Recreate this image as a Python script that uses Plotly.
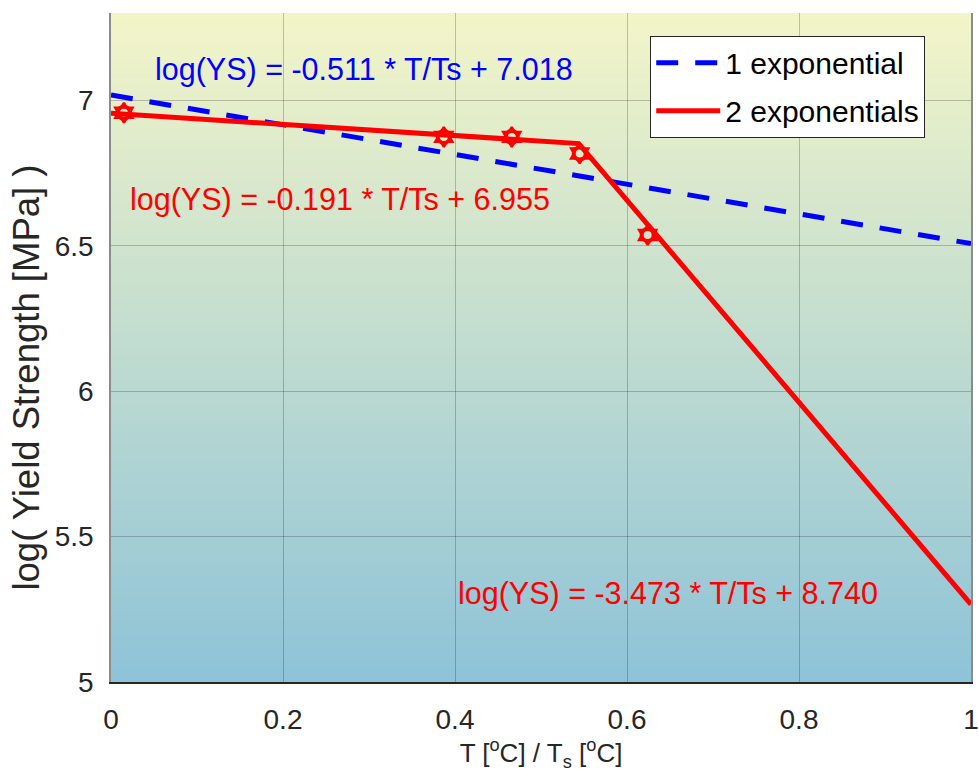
import base64
import struct
import zlib

import plotly.graph_objects as go

# Measured yield strength, normalised temperature vs log(YS)
t_ratio = [0.015, 0.387, 0.466, 0.545, 0.624]
log_ys = [6.957, 6.874, 6.874, 6.817, 6.537]

# Fitted models: log(YS) = slope * T/Ts + intercept
fit1 = {"slope": -0.511, "intercept": 7.018}          # single exponential
fit2_low = {"slope": -0.191, "intercept": 6.955}      # two exponentials, low T
fit2_high = {"slope": -3.473, "intercept": 8.740}     # two exponentials, high T

x_ticks = [0, 0.2, 0.4, 0.6, 0.8, 1]
x_tick_text = ["0", "0.2", "0.4", "0.6", "0.8", "1"]
y_ticks = [5, 5.5, 6, 6.5, 7]
y_tick_text = ["5", "5.5", "6", "6.5", "7"]

x_span = [0.0, 1.0]


def line(fit, xs):
    return [fit["slope"] * x + fit["intercept"] for x in xs]


def fmt(fit):
    return "log(YS) = %.3f * T/Ts + %.3f" % (fit["slope"], fit["intercept"])


# break point where the two exponential branches meet
x_break = (fit2_high["intercept"] - fit2_low["intercept"]) / (
    fit2_low["slope"] - fit2_high["slope"])
x_two = [x_span[0], x_break, x_span[1]]
y_two = line(fit2_low, x_two[:2]) + line(fit2_high, x_two[2:])


def gradient_png(top, bottom, height=256, width=4):
    """Vertical colour ramp encoded as a PNG data URI."""
    raw = b""
    for i in range(height):
        f = i / (height - 1)
        px = bytes(int(round(a + (b - a) * f)) for a, b in zip(top, bottom))
        raw += b"\x00" + px * width

    def chunk(tag, data):
        return (struct.pack(">I", len(data)) + tag + data
                + struct.pack(">I", zlib.crc32(tag + data) & 0xFFFFFFFF))

    png = (b"\x89PNG\r\n\x1a\n"
           + chunk(b"IHDR", struct.pack(">IIBBBBB", width, height, 8, 2, 0, 0, 0))
           + chunk(b"IDAT", zlib.compress(raw, 9))
           + chunk(b"IEND", b""))
    return "data:image/png;base64," + base64.b64encode(png).decode()


FONT = "Liberation Sans, Arial, Helvetica, sans-serif"
RED = "#ff0000"
BLUE = "#0000ff"

fig = go.Figure()

fig.add_trace(go.Scatter(
    x=x_span, y=line(fit1, x_span), mode="lines",
    line=dict(color=BLUE, width=5, dash="22px,17px"),
    name="1 exponential", legendgroup="a", hoverinfo="skip"))

fig.add_trace(go.Scatter(
    x=x_two, y=y_two, mode="lines",
    line=dict(color=RED, width=5),
    name="2 exponentials", legendgroup="b", hoverinfo="skip"))

# data markers: toothed ring (star outline under a thick ring)
fig.add_trace(go.Scatter(
    x=t_ratio, y=log_ys, mode="markers", showlegend=False, hoverinfo="skip",
    marker=dict(symbol="hexagram-open", size=15, color=RED,
                line=dict(color=RED, width=2.5))))
fig.add_trace(go.Scatter(
    x=t_ratio, y=log_ys, mode="markers", showlegend=False,
    marker=dict(symbol="circle-open", size=12, color=RED,
                line=dict(color=RED, width=4))))

annotations = [
    dict(x=0.049, y=7.107, text=fmt(fit1), color=BLUE),
    dict(x=0.020, y=6.659, text=fmt(fit2_low), color=RED),
    dict(x=0.401, y=5.303, text=fmt(fit2_high), color=RED),
]
for a in annotations:
    fig.add_annotation(
        x=a["x"], y=a["y"], xref="x", yref="y", text=a["text"],
        showarrow=False, xanchor="left", yanchor="middle",
        font=dict(family=FONT, size=30.5, color=a["color"]))

# y-axis title placed as a rotated label
fig.add_annotation(
    x=-0.0977, y=0.455, xref="paper", yref="paper",
    text="log( Yield Strength [MPa] )", textangle=-90, showarrow=False,
    xanchor="center", yanchor="middle",
    font=dict(family=FONT, size=36.5, color="#262626"))

fig.add_layout_image(dict(
    source=gradient_png((243, 245, 200), (142, 195, 216)),
    xref="paper", yref="paper", x=0, y=1, sizex=1, sizey=1,
    xanchor="left", yanchor="top", sizing="stretch", layer="below"))

fig.update_layout(
    width=979, height=780,
    margin=dict(l=111, r=8, t=13, b=98),
    paper_bgcolor="white",
    plot_bgcolor="#c8dfd0",
    font=dict(family=FONT, size=28, color="#262626"),
    showlegend=True,
    legend=dict(
        x=0.627, y=0.966, xanchor="left", yanchor="top",
        bgcolor="white", bordercolor="#262626", borderwidth=1,
        font=dict(family=FONT, size=30, color="#000000"),
        itemwidth=64, tracegroupgap=6),
    xaxis=dict(
        range=[0, 1], tickvals=x_ticks, ticktext=x_tick_text,
        showgrid=True, gridcolor="rgba(0,0,0,0.22)", gridwidth=1,
        zeroline=False, showline=True, linecolor="#262626", linewidth=1.5,
        ticks="", ticklabelstandoff=12, automargin=False,
        title=dict(text="T [<sup>o</sup>C] / T<sub>s</sub> [<sup>o</sup>C]",
                   font=dict(size=26), standoff=6)),
    yaxis=dict(
        range=[5, 7.3], tickvals=y_ticks, ticktext=y_tick_text,
        showgrid=True, gridcolor="rgba(0,0,0,0.22)", gridwidth=1,
        zeroline=False, showline=True, linecolor="#8c8c8c", linewidth=1.5,
        mirror=True, ticks="", ticklabelstandoff=10, automargin=False),
)

fig.write_html("out.html")
